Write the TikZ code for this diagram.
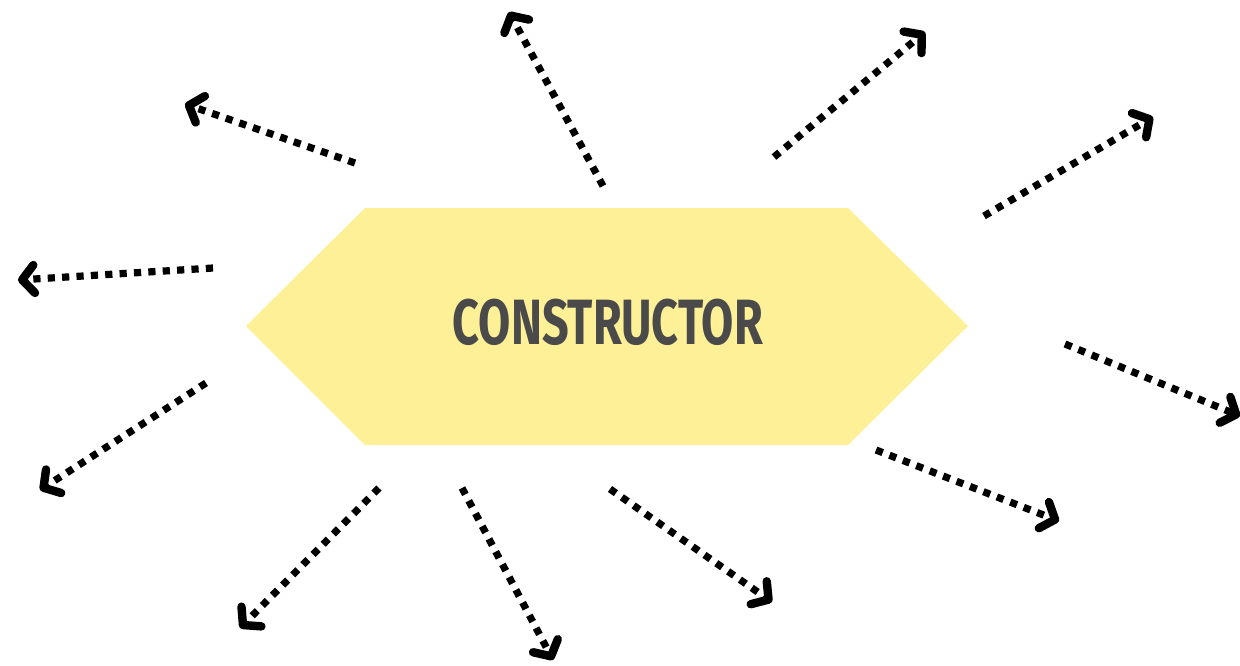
\documentclass[tikz,border=0pt]{standalone}
\usepackage{fontspec}
\setmainfont{Fira Sans}
\usepackage{tikz}
\usetikzlibrary{arrows.meta}
\usepackage{xcolor}

\definecolor{hexyellow}{HTML}{FEF096}
\definecolor{textgray}{HTML}{4A4A4A}

\tikzset{
    spoke/.style={line width=3.6pt, dash pattern=on 3.6pt off 3.6pt, line cap=butt,
        -{Straight Barb[length=6pt, width=14pt, line width=4.2pt, line cap=round, line join=round]}}
}

\begin{document}
\begin{tikzpicture}[x=0.5pt, y=-0.5pt]
    \useasboundingbox (0,0) rectangle (1240,665);

    % Hexagon
    \fill[hexyellow] (246,326) -- (365,208) -- (848,208) -- (968,326)
        -- (848,445) -- (365,445) -- cycle;
    \node[text=textgray, font=\bfseries\fontsize{32}{36}\selectfont] (ctor) at (608,322)
        {\scalebox{0.73}[1]{CONSTRUCTOR}};

    % Upper spokes
    \coordinate (s1) at (355,163);  \coordinate (t1) at (185,104);
    \draw[spoke] (s1) -- (t1);
    \coordinate (s2) at (603,186);  \coordinate (t2) at (509,12);
    \draw[spoke] (s2) -- (t2);
    \coordinate (s3) at (774,157);  \coordinate (t3) at (925,32);
    \draw[spoke] (s3) -- (t3);
    \coordinate (s4) at (984,216);  \coordinate (t4) at (1153,117);
    \draw[spoke] (s4) -- (t4);

    % Side spokes
    \coordinate (s5) at (213,268);  \coordinate (t5) at (18,280);
    \draw[spoke] (s5) -- (t5);
    \coordinate (s6) at (1065,344); \coordinate (t6) at (1240,416);
    \draw[spoke] (s6) -- (t6);
    \coordinate (s7) at (206,383);  \coordinate (t7) at (40,490);
    \draw[spoke] (s7) -- (t7);
    \coordinate (s8) at (876,450);  \coordinate (t8) at (1059,521);
    \draw[spoke] (s8) -- (t8);

    % Lower spokes
    \coordinate (s9) at (379,488);  \coordinate (t9) at (240,628);
    \draw[spoke] (s9) -- (t9);
    \coordinate (s10) at (462,488); \coordinate (t10) at (553,660);
    \draw[spoke] (s10) -- (t10);
    \coordinate (s11) at (610,489); \coordinate (t11) at (772,602);
    \draw[spoke] (s11) -- (t11);
\end{tikzpicture}
\end{document}
